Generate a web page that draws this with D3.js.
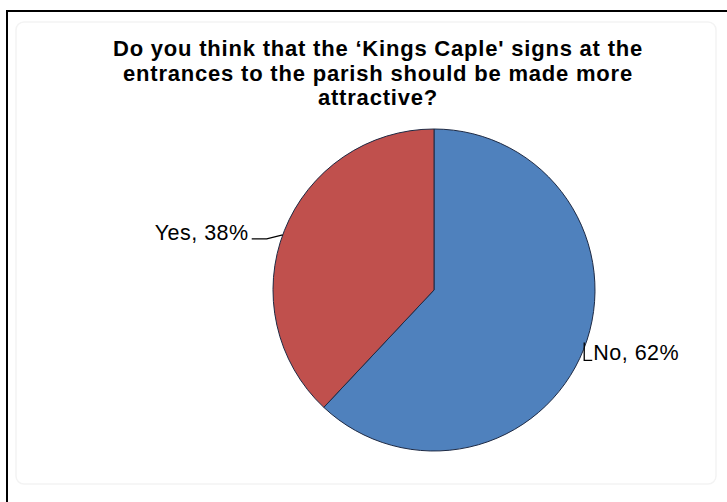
<!DOCTYPE html>
<html>
<head>
<meta charset="utf-8">
<script src="https://cdn.jsdelivr.net/npm/d3@7"></script>
<style>
  html, body { margin: 0; padding: 0; background: #fff; }
  svg { display: block; }
</style>
</head>
<body>
<script>
// Survey answers and their shares (percent)
const categories = ["No", "Yes"];
const values = [62, 38];
const colors = ["#4F81BD", "#C0504D"];
const titleLines = [
  "Do you think that the \u2018Kings Caple' signs at the",
  "entrances to the parish should be made more",
  "attractive?"
];

const W = 727, H = 502;
const svg = d3.select("body").append("svg")
  .attr("width", W).attr("height", H);

// Outer frame (runs off the right and bottom edges)
svg.append("path")
  .attr("d", `M7,${H + 5} L7,11 L${W + 5},11`)
  .attr("fill", "none")
  .attr("stroke", "#000")
  .attr("stroke-width", 2);

// Faint inner chart-area outline
svg.append("rect")
  .attr("x", 16).attr("y", 22)
  .attr("width", 700).attr("height", 462)
  .attr("rx", 8)
  .attr("fill", "none")
  .attr("stroke", "#f3f3f3")
  .attr("stroke-width", 1.5);

// Title
const title = svg.append("text")
  .attr("text-anchor", "middle")
  .attr("font-family", "Liberation Sans, Arial, sans-serif")
  .attr("font-weight", "bold")
  .attr("font-size", 22)
  .attr("letter-spacing", 0.8)
  .attr("fill", "#000");
titleLines.forEach((t, i) => {
  title.append("tspan")
    .attr("x", 378)
    .attr("y", 56 + i * 24.5)
    .text(t);
});

// Pie
const cx = 434, cy = 290, r = 161;
const pie = d3.pie().sort(null).value(d => d.value);
const arc = d3.arc().innerRadius(0).outerRadius(r);
const data = categories.map((c, i) => ({ name: c, value: values[i], color: colors[i] }));
const arcs = pie(data);

const g = svg.append("g").attr("transform", `translate(${cx},${cy})`);
g.selectAll("path.slice")
  .data(arcs)
  .join("path")
  .attr("class", "slice")
  .attr("d", arc)
  .attr("fill", d => d.data.color)
  .attr("stroke", "#1e2a44")
  .attr("stroke-width", 1);

// Data labels with leader lines
const lab = svg.append("g")
  .attr("font-family", "Liberation Sans, Arial, sans-serif")
  .attr("font-size", 21.5)
  .attr("letter-spacing", 0.5)
  .attr("fill", "#000");

// "No" label: L-shaped leader down from the slice edge
(function () {
  const a = arcs[0];
  const ang = 109 * Math.PI / 180;
  const ex = cx + r * Math.sin(ang), ey = cy - r * Math.cos(ang);
  svg.append("path")
    .attr("d", `M${ex - 2},${ey} L${ex - 2},${ey + 18} L${ex + 6},${ey + 18}`)
    .attr("fill", "none").attr("stroke", "#000").attr("stroke-width", 1.3);
  lab.append("text")
    .attr("x", ex + 7).attr("y", ey + 18)
    .text(`${a.data.name}, ${a.data.value}%`);
})();

// "Yes" label: short leader to the left of the slice
(function () {
  const a = arcs[1];
  const ang = (360 - 70) * Math.PI / 180;
  const ex = cx + r * Math.sin(ang), ey = cy - r * Math.cos(ang);
  svg.append("path")
    .attr("d", `M${ex},${ey} L${ex - 16},${ey + 4} L${ex - 31},${ey + 4}`)
    .attr("fill", "none").attr("stroke", "#000").attr("stroke-width", 1.3);
  lab.append("text")
    .attr("x", ex - 34).attr("y", ey + 5)
    .attr("text-anchor", "end")
    .text(`${a.data.name}, ${a.data.value}%`);
})();
</script>
</body>
</html>
